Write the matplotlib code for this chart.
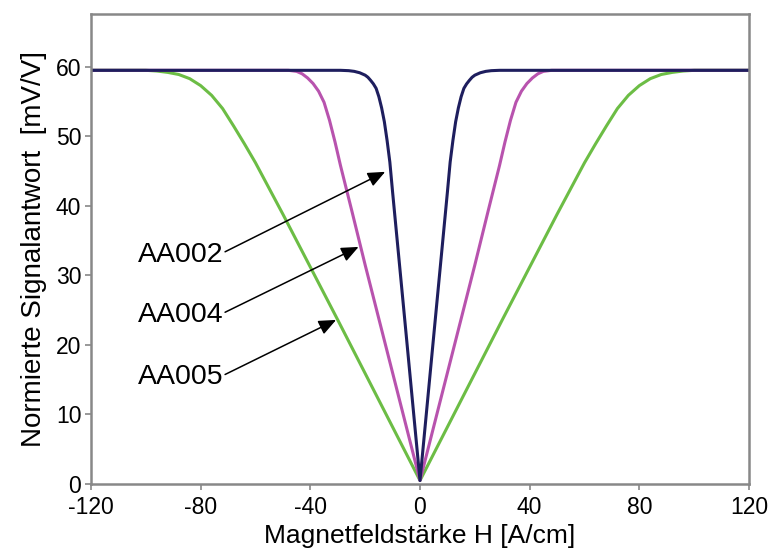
import matplotlib
matplotlib.use("Agg")
import matplotlib.pyplot as plt

plt.rcParams["font.family"] = ["Liberation Sans", "DejaVu Sans"]
plt.rcParams["axes.unicode_minus"] = False

# AA005 (green)
h_aa005 = [-120, -100, -96, -92, -88, -84, -80, -76, -72, -68, -64, -60, -55, -50, -40, -30, -20, -10, 0,
           10, 20, 30, 40, 50, 55, 60, 64, 68, 72, 76, 80, 84, 88, 92, 96, 100, 120]
u_aa005 = [59.5, 59.5, 59.4, 59.2, 58.9, 58.3, 57.3, 55.9, 54.0, 51.5, 48.9, 46.2, 42.5, 38.8, 31.2, 23.6, 15.9, 8.2, 0.5,
           8.2, 15.9, 23.6, 31.2, 38.8, 42.5, 46.2, 48.9, 51.5, 54.0, 55.9, 57.3, 58.3, 58.9, 59.2, 59.4, 59.5, 59.5]

# AA004 (magenta)
h_aa004 = [-120, -48, -45, -43, -41, -39, -37, -35, -33, -31, -29, -25, -20, -10, 0,
           10, 20, 25, 29, 31, 33, 35, 37, 39, 41, 43, 45, 48, 120]
u_aa004 = [59.5, 59.5, 59.35, 59.0, 58.4, 57.6, 56.5, 54.9, 52.3, 49.2, 45.8, 39.5, 31.5, 16.0, 0.5,
           16.0, 31.5, 39.5, 45.8, 49.2, 52.3, 54.9, 56.5, 57.6, 58.4, 59.0, 59.35, 59.5, 59.5]

# AA002 (navy)
h_aa002 = [-120, -29, -26, -24, -22, -20, -19, -18, -17, -16, -15, -14, -13, -12, -11, -10, -5, 0,
           5, 10, 11, 12, 13, 14, 15, 16, 17, 18, 19, 20, 22, 24, 26, 29, 120]
u_aa002 = [59.5, 59.5, 59.45, 59.35, 59.15, 58.8, 58.5, 58.05, 57.55, 56.9, 55.7, 54.1, 52.1, 49.4, 46.3, 42.0, 21.3, 0.5,
           21.3, 42.0, 46.3, 49.4, 52.1, 54.1, 55.7, 56.9, 57.55, 58.05, 58.5, 58.8, 59.15, 59.35, 59.45, 59.5, 59.5]

labels = ["AA002", "AA004", "AA005"]
arrow_tips = [(-12.7, 44.9), (-22.4, 34.1), (-30.6, 23.6)]
arrow_tails = [(-71.1, 33.4), (-71.1, 24.7), (-71.1, 15.75)]

x_ticks = [-120, -80, -40, 0, 40, 80, 120]
y_ticks = [0, 10, 20, 30, 40, 50, 60]

fig = plt.figure(figsize=(7.71, 5.50), dpi=100)
ax = fig.add_axes([91 / 771, 66 / 550, 658 / 771, 470 / 550])

ax.plot(h_aa005, u_aa005, color="#6cbd45", lw=2.2, solid_joinstyle="round")
ax.plot(h_aa004, u_aa004, color="#b853ae", lw=2.2, solid_joinstyle="round")
ax.plot(h_aa002, u_aa002, color="#1e1e5e", lw=2.2, solid_joinstyle="round")

for label, tip, tail in zip(labels, arrow_tips, arrow_tails):
    ax.annotate("", xy=tip, xytext=tail,
                arrowprops=dict(arrowstyle="-|>,head_length=0.7,head_width=0.3",
                                mutation_scale=15, lw=1.1, color="black",
                                shrinkA=0, shrinkB=0))
    ax.text(tail[0] - 0.5, tail[1], label, ha="right", va="center_baseline", fontsize=20.5)

ax.set_xlim(-120, 120)
ax.set_ylim(0, 67.6)
ax.set_xticks(x_ticks)
ax.set_xticklabels([str(v) for v in x_ticks])
ax.set_yticks(y_ticks)

for sp in ax.spines.values():
    sp.set_color("#888888")
    sp.set_linewidth(1.8)
ax.tick_params(colors="#888888", labelcolor="black", labelsize=16.5, length=4, width=1.2)
ax.tick_params(axis="x", pad=5)
ax.tick_params(axis="y", pad=3)

ax.set_xlabel("Magnetfeldstärke H [A/cm]", fontsize=19, labelpad=3)
ax.set_ylabel("Normierte Signalantwort  [mV/V]", fontsize=20, labelpad=6)

fig.savefig("out.png", dpi=100)
